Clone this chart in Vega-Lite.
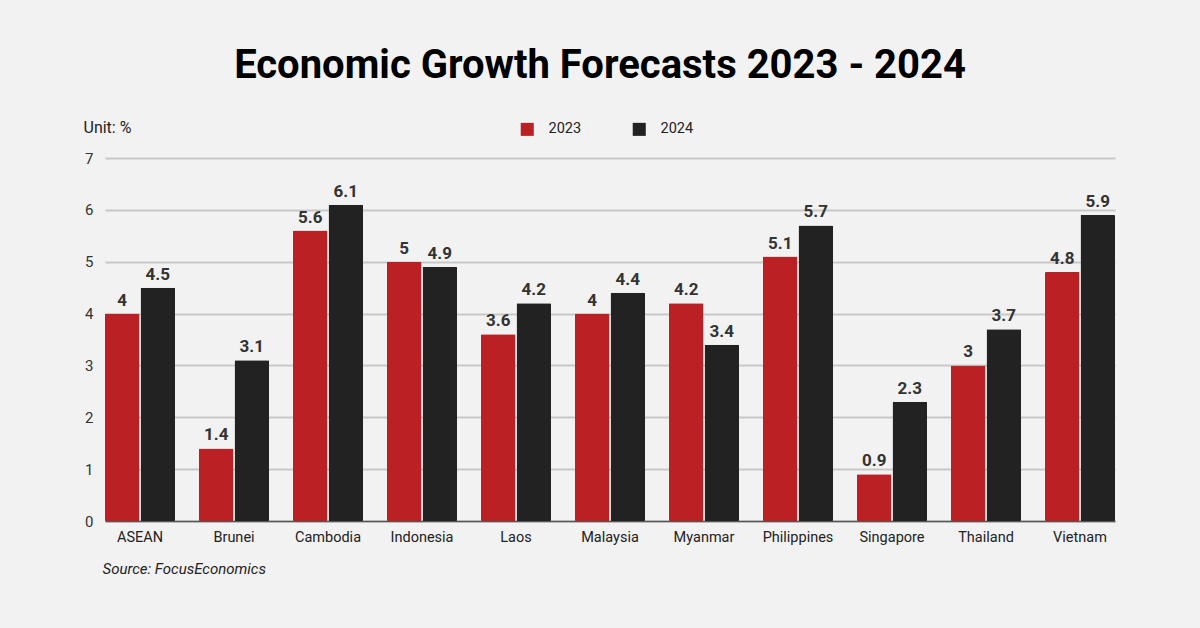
{
  "$schema": "https://vega.github.io/schema/vega-lite/v6.json",
  "width": 1010,
  "height": 363,
  "autosize": {"type": "none"},
  "padding": {"left": 105, "top": 158, "right": 85, "bottom": 107},
  "background": "#f2f2f2",
  "title": {
    "text": "Economic Growth Forecasts 2023 - 2024",
    "anchor": "middle",
    "frame": "group",
    "dx": -10,
    "fontSize": 40,
    "font": "Roboto",
    "fontWeight": "bold",
    "color": "#000000",
    "offset": 33
  },
  "config": {
    "view": {"stroke": null},
    "font": "Roboto"
  },
  "data": {
    "values": [
      {"country": "ASEAN", "year": "2023", "value": 4},
      {"country": "ASEAN", "year": "2024", "value": 4.5},
      {"country": "Brunei", "year": "2023", "value": 1.4},
      {"country": "Brunei", "year": "2024", "value": 3.1},
      {"country": "Cambodia", "year": "2023", "value": 5.6},
      {"country": "Cambodia", "year": "2024", "value": 6.1},
      {"country": "Indonesia", "year": "2023", "value": 5},
      {"country": "Indonesia", "year": "2024", "value": 4.9},
      {"country": "Laos", "year": "2023", "value": 3.6},
      {"country": "Laos", "year": "2024", "value": 4.2},
      {"country": "Malaysia", "year": "2023", "value": 4},
      {"country": "Malaysia", "year": "2024", "value": 4.4},
      {"country": "Myanmar", "year": "2023", "value": 4.2},
      {"country": "Myanmar", "year": "2024", "value": 3.4},
      {"country": "Philippines", "year": "2023", "value": 5.1},
      {"country": "Philippines", "year": "2024", "value": 5.7},
      {"country": "Singapore", "year": "2023", "value": 0.9},
      {"country": "Singapore", "year": "2024", "value": 2.3},
      {"country": "Thailand", "year": "2023", "value": 3},
      {"country": "Thailand", "year": "2024", "value": 3.7},
      {"country": "Vietnam", "year": "2023", "value": 4.8},
      {"country": "Vietnam", "year": "2024", "value": 5.9}
    ]
  },
  "encoding": {
    "x": {
      "field": "country",
      "type": "nominal",
      "sort": null,
      "scale": {"paddingInner": 0.255, "paddingOuter": 0},
      "axis": {
        "title": "Source: FocusEconomics",
        "titleFontStyle": "italic",
        "titleFontWeight": "normal",
        "titleFontSize": 15,
        "titleColor": "#222222",
        "titleAnchor": "start",
        "titleAlign": "left",
        "titleBaseline": "middle",
        "titleX": -3,
        "titleY": 47,
        "labelAngle": 0,
        "labelFontSize": 14.5,
        "labelColor": "#222222",
        "labelPadding": 9,
        "ticks": false,
        "domainColor": "#555555",
        "domainWidth": 1.5,
        "grid": false
      }
    },
    "xOffset": {
      "field": "year",
      "type": "nominal",
      "scale": {"paddingInner": 0.03, "paddingOuter": 0}
    },
    "y": {
      "field": "value",
      "type": "quantitative",
      "scale": {"domain": [0, 7], "nice": false},
      "axis": {
        "title": "Unit: %",
        "titleAngle": 0,
        "titleAlign": "left",
        "titleBaseline": "middle",
        "titleX": -22,
        "titleY": -31,
        "titleFontSize": 16,
        "titleFontWeight": "normal",
        "titleColor": "#222222",
        "values": [0, 1, 2, 3, 4, 5, 6, 7],
        "labelOverlap": false,
        "labelFontSize": 15,
        "labelColor": "#333333",
        "labelPadding": 12,
        "ticks": false,
        "domain": false,
        "gridColor": "#c8c8c8",
        "gridWidth": 2
      }
    }
  },
  "layer": [
    {
      "mark": {"type": "bar", "cornerRadius": 1},
      "encoding": {
        "color": {
          "field": "year",
          "type": "nominal",
          "scale": {"domain": ["2023", "2024"], "range": ["#bb2124", "#222222"]},
          "legend": {
            "title": null,
            "orient": "none",
            "direction": "horizontal",
            "legendX": 415,
            "legendY": -36,
            "symbolType": "square",
            "symbolSize": 170,
            "symbolStrokeWidth": 0,
            "symbolOpacity": 1,
            "labelFontSize": 14.5,
            "labelColor": "#222222",
            "labelOffset": 14,
            "columnPadding": 50
          }
        }
      }
    },
    {
      "mark": {
        "type": "text",
        "baseline": "bottom",
        "dy": -4,
        "fontSize": 17,
        "fontWeight": "bold",
        "color": "#333333"
      },
      "encoding": {
        "text": {"field": "value", "type": "quantitative"}
      }
    }
  ]
}
